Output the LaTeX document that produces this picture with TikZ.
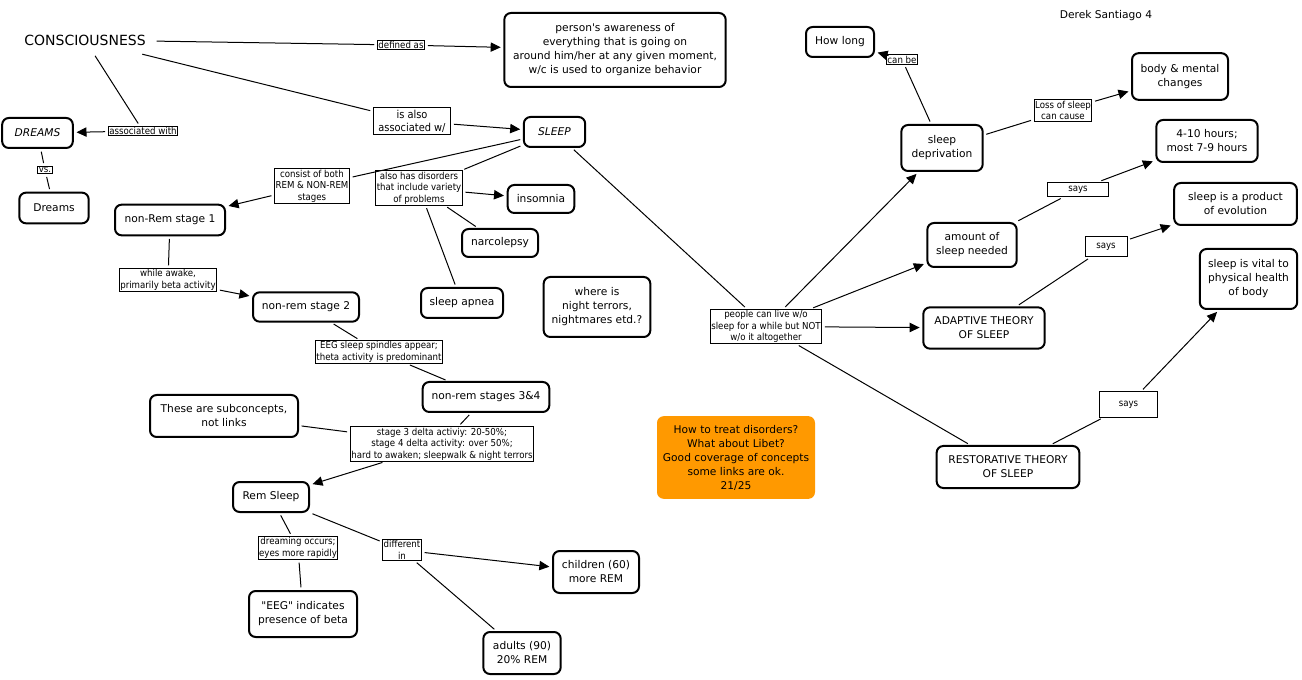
\documentclass[tikz,border=0pt]{standalone}
\usepackage{fontspec}
\setmainfont{DejaVu Sans}[Ligatures=TeXOff]
\newfontfamily\labfont{DejaVu Sans Condensed}[Ligatures=TeXOff]
\usetikzlibrary{arrows.meta}
\definecolor{cmorange}{RGB}{255,153,0}
\begin{document}
\begin{tikzpicture}[x=0.75pt,y=-0.75pt,
  concept/.style={draw, line width=1.5pt, rounded corners=5pt, align=center, inner sep=1pt,
    font=\fontsize{8}{10.5}\selectfont},
  lab/.style={draw, line width=0.75pt, fill=white, align=center, inner sep=0.8pt,
    font=\labfont\fontsize{7.2}{8.6}\selectfont},
  conn/.style={line width=0.75pt, shorten <=2pt, shorten >=2pt},
  arr/.style={conn, -{Triangle[length=7.5pt,width=7pt]}},
  sz/.style 2 args={minimum width=#1, minimum height=#2}
]
\useasboundingbox (0,0) rectangle (1302,680);
\fill[white] (0,0) rectangle (1302,680);

% --- concepts
\node[inner sep=6pt, font=\fontsize{10.5}{12}\selectfont] (con) at (85,40) {CONSCIOUSNESS};
\node[font=\fontsize{8}{10}\selectfont] (derek) at (1106,16) {Derek Santiago 4};
\node[concept, sz={166pt}{55.5pt}] (person) at (615,50) {person's awareness of\\everything that is going on\\around him/her at any given moment,\\w/c is used to organize behavior};
\node[concept, sz={46pt}{22.5pt}, font=\fontsize{8}{10.5}\selectfont\itshape] (sleep) at (554.5,132) {SLEEP};
\node[concept, sz={53pt}{22.5pt}, font=\fontsize{8}{10.5}\selectfont\itshape] (dreamsI) at (37.5,133) {DREAMS};
\node[concept, sz={52pt}{23pt}] (dreams) at (54,208) {Dreams};
\node[concept, sz={50pt}{21pt}] (insom) at (541,199) {insomnia};
\node[concept, sz={57pt}{21pt}] (narco) at (500,243) {narcolepsy};
\node[concept, sz={61.5pt}{22.5pt}] (apnea) at (462,303) {sleep apnea};
\node[concept, sz={80pt}{45pt}] (where) at (597,307) {where is\\night terrors,\\nightmares etd.?};
\node[concept, sz={82.5pt}{23pt}] (nr1) at (170,220) {non-Rem stage 1};
\node[concept, sz={79.5pt}{22pt}] (nr2) at (306,307) {non-rem stage 2};
\node[concept, sz={95pt}{22.5pt}] (nr34) at (486,397) {non-rem stages 3\&4};
\node[concept, sz={111pt}{31.5pt}] (subc) at (224,416) {These are subconcepts,\\not links};
\node[concept, sz={57pt}{22.5pt}] (rem) at (271,497) {Rem Sleep};
\node[concept, sz={81pt}{34.5pt}] (eegind) at (303,614) {"EEG" indicates\\presence of beta};
\node[concept, sz={64.5pt}{31.5pt}] (child) at (596,572) {children (60)\\more REM};
\node[concept, sz={58pt}{31.5pt}] (adult) at (522,653) {adults (90)\\20\% REM};
\node[fill=cmorange, rounded corners=5pt, align=center, inner sep=1pt, font=\fontsize{8}{10.5}\selectfont,
  sz={118.5pt}{62pt}] (note) at (736,457.5) {How to treat disorders?\\What about Libet?\\Good coverage of concepts\\some links are ok.\\21/25};
\node[concept, sz={91pt}{31pt}] (adapt) at (984,328) {ADAPTIVE THEORY\\OF SLEEP};
\node[concept, sz={107pt}{31.5pt}] (restor) at (1008,467) {RESTORATIVE THEORY\\OF SLEEP};
\node[concept, sz={61pt}{34.5pt}] (sdep) at (942,148) {sleep\\deprivation};
\node[concept, sz={67pt}{33pt}] (amount) at (972,245) {amount of\\sleep needed};
\node[concept, sz={51pt}{22.5pt}] (howlong) at (840,42) {How long};
\node[concept, sz={72pt}{35pt}] (body) at (1180,76.5) {body \& mental\\changes};
\node[concept, sz={76pt}{31.5pt}] (hours) at (1207,141) {4-10 hours;\\most 7-9 hours};
\node[concept, sz={92pt}{31.5pt}] (product) at (1235.5,204) {sleep is a product\\of evolution};
\node[concept, sz={73pt}{45pt}] (vital) at (1248.5,279) {sleep is vital to\\physical health\\of body};

% --- linking phrases
\node[lab] (ldef) at (401,45) {defined as};
\node[lab, sz={58pt}{20pt}, font=\labfont\fontsize{8.2}{9.6}\selectfont] (lalso) at (412,121) {is also\\associated w/};
\node[lab] (lassoc) at (143,131) {associated with};
\node[lab] (lvs) at (45,170) {vs.};
\node[lab] (lcons) at (312,186) {consist of both\\REM \& NON-REM\\stages};
\node[lab] (ldis) at (419,188) {also has disorders\\that include variety\\of problems};
\node[lab] (lawake) at (168,280) {while awake,\\primarily beta activity};
\node[lab] (leeg) at (379,352) {EEG sleep spindles appear;\\theta activity is predominant};
\node[lab] (lst) at (442,444) {stage 3 delta activiy: 20-50\%;\\stage 4 delta activity: over 50\%;\\hard to awaken; sleepwalk \& night terrors};
\node[lab] (ldream) at (298,548) {dreaming occurs;\\eyes more rapidly};
\node[lab] (ldiff) at (402,550) {different\\in};
\node[lab] (lpeople) at (766,326.5) {people can live w/o\\sleep for a while but NOT\\w/o it altogether};
\node[lab] (lcan) at (902,59.5) {can be};
\node[lab] (lloss) at (1063,110.5) {Loss of sleep\\can cause};
\node[lab, sz={46pt}{11pt}] (lsays1) at (1078,189.5) {says};
\node[lab, sz={31.5pt}{15pt}] (lsays2) at (1106,247) {says};
\node[lab, sz={43pt}{19pt}] (lsays3) at (1128.5,404.5) {says};

% --- connectors
\draw[conn] (con) -- (ldef);
\draw[arr] (ldef) -- (person);
\draw[conn] (con) -- (lalso);
\draw[arr] (lalso) -- (sleep);
\draw[conn] (con) -- (lassoc);
\draw[arr] (lassoc) -- (dreamsI);
\draw[conn] (dreamsI) -- (lvs);
\draw[conn] (lvs) -- (dreams);

\draw[conn] (sleep) -- (lcons);
\draw[arr] (lcons) -- (nr1);
\draw[conn] (sleep) -- (ldis);
\draw[arr] (ldis) -- (insom);
\draw[conn] (ldis) -- (narco);
\draw[conn] (ldis) -- (apnea);

\draw[conn] (nr1) -- (lawake);
\draw[arr] (lawake) -- (nr2);
\draw[conn] (nr2) -- (leeg);
\draw[conn] (leeg) -- (nr34);
\draw[conn] (nr34) -- (lst);
\draw[conn] (subc) -- (lst);
\draw[arr] (lst) -- (rem);
\draw[conn] (rem) -- (ldream);
\draw[conn] (ldream) -- (eegind);
\draw[conn] (rem) -- (ldiff);
\draw[arr] (ldiff) -- (child);
\draw[conn] (ldiff) -- (adult);

\draw[conn] (sleep) -- (lpeople);
\draw[arr] (lpeople) -- (sdep);
\draw[arr] (lpeople) -- (amount);
\draw[arr] (lpeople) -- (adapt);
\draw[conn] (lpeople) -- (restor);

\draw[conn] (sdep) -- (lcan);
\draw[arr] (lcan) -- (howlong);
\draw[conn] (sdep) -- (lloss);
\draw[arr] (lloss) -- (body);
\draw[conn] (amount) -- (lsays1);
\draw[arr] (lsays1) -- (hours);
\draw[conn] (adapt) -- (lsays2);
\draw[arr] (lsays2) -- (product);
\draw[conn] (restor) -- (lsays3);
\draw[arr] (lsays3) -- (vital);
\end{tikzpicture}
\end{document}
